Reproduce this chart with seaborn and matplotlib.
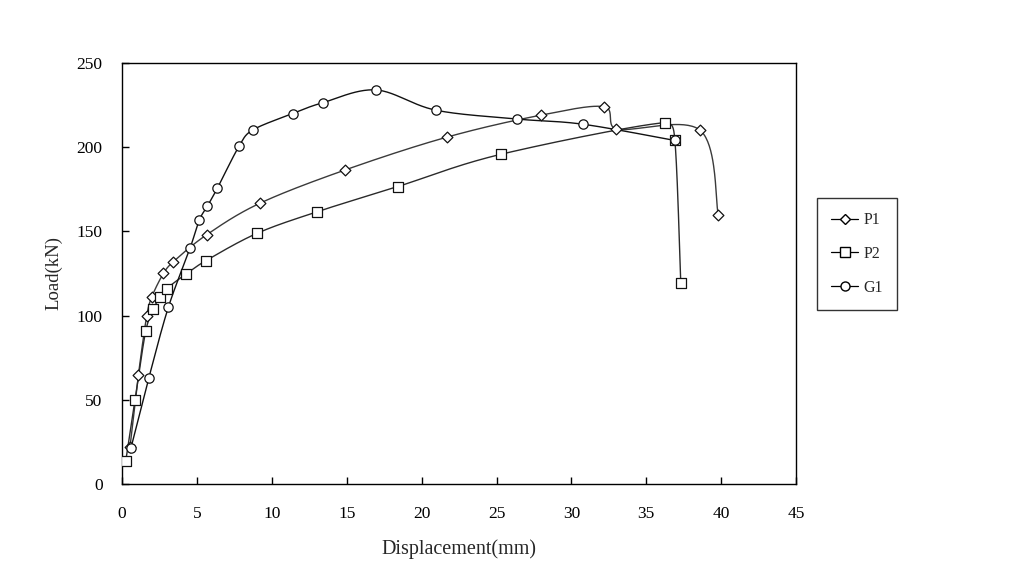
import numpy as np
import pandas as pd
import matplotlib
matplotlib.use("Agg")
import matplotlib.pyplot as plt
import seaborn as sns
from matplotlib.lines import Line2D

# ---- data ----
p1_x = [0.53, 1.09, 1.65, 1.98, 2.76, 3.43, 5.65, 9.2, 14.9, 21.7, 27.95, 32.2, 33.0, 38.6, 39.8]
p1_y = [22, 64.7, 100, 111, 125, 132, 148, 166.7, 186.5, 206, 219, 224, 210.8, 210, 160]

p2_x = [0.25, 0.87, 1.58, 2.09, 2.54, 2.98, 4.27, 5.6, 9.0, 13.04, 18.4, 25.3, 36.25, 36.9, 37.3]
p2_y = [13.8, 50, 90.9, 103.9, 111, 116, 124.7, 132.6, 148.8, 161.7, 176.6, 195.8, 214.6, 204.5, 119.5]

g1_x = [0.6, 1.78, 3.09, 4.54, 5.16, 5.7, 6.36, 7.83, 8.72, 11.4, 13.4, 16.94, 20.94, 26.4, 30.8, 36.9]
g1_y = [21.6, 62.7, 104.9, 140, 156.8, 165, 175.6, 200.9, 210.2, 220, 226.4, 234, 222, 216.7, 213.6, 204]

series_names = ["P1", "P2", "G1"]
series_markers = ["D", "s", "o"]
x_ticks = [0, 5, 10, 15, 20, 25, 30, 35, 40, 45]
y_ticks = [0, 50, 100, 150, 200, 250]
x_label = "Displacement(mm)"
y_label = "Load(kN)"

sns.set_theme(style="white")
plt.rcParams["font.family"] = ["Liberation Serif", "DejaVu Serif"]

fig = plt.figure(figsize=(10.23, 5.69), dpi=100)
ax = fig.add_axes([0.1193, 0.1494, 0.6589, 0.7399])

XMAX, YMAX = 45, 250
AXW, AXH = 674.0, 421.0  # axes size in pixels, for screen-space smoothing


def smooth(xs, ys, n=40):
    # Bezier smoothing with clamped tangents (spreadsheet-style "smoothed line")
    P = np.column_stack([np.asarray(xs) / XMAX * AXW, np.asarray(ys) / YMAX * AXH])
    m = len(P)
    tang = np.zeros_like(P)
    for i in range(m):
        a = P[max(i - 1, 0)]
        b = P[min(i + 1, m - 1)]
        tang[i] = (b - a) / 6.0
    out = []
    t = np.linspace(0, 1, n)[:, None]
    for i in range(m - 1):
        p1, p2 = P[i], P[i + 1]
        seg = np.linalg.norm(p2 - p1)
        d1, d2 = tang[i].copy(), tang[i + 1].copy()
        for d in (d1, d2):
            L = np.linalg.norm(d)
            if L > 0.45 * seg and L > 0:
                d *= 0.45 * seg / L
        c1, c2 = p1 + d1, p2 - d2
        c = ((1 - t) ** 3) * p1 + 3 * ((1 - t) ** 2) * t * c1 + 3 * (1 - t) * t ** 2 * c2 + t ** 3 * p2
        out.append(c if i == m - 2 else c[:-1])
    out = np.vstack(out)
    return out[:, 0] / AXW * XMAX, out[:, 1] / AXH * YMAX


data = {"P1": (p1_x, p1_y), "P2": (p2_x, p2_y), "G1": (g1_x, g1_y)}
line_colors = {"P1": "#3a3a3a", "P2": "#2a2a2a", "G1": "#111111"}
marker_sizes = {"D": 30, "s": 48, "o": 45}

for name, mk in zip(series_names, series_markers):
    xs, ys = data[name]
    sx, sy = smooth(xs, ys)
    df_line = pd.DataFrame({"x": sx, "y": sy})
    sns.lineplot(data=df_line, x="x", y="y", sort=False, estimator=None, ax=ax,
                 color=line_colors[name], linewidth=1.0)
    df_pts = pd.DataFrame({"x": xs, "y": ys})
    sns.scatterplot(data=df_pts, x="x", y="y", marker=mk, s=marker_sizes[mk], facecolor="white",
                    edgecolor="#111111", linewidth=0.9, ax=ax, zorder=3)

ax.set_xlim(0, XMAX)
ax.set_ylim(0, YMAX)
ax.set_xticks(x_ticks)
ax.set_yticks(y_ticks)
ax.tick_params(axis="both", direction="in", length=5, width=1, colors="black",
               labelsize=12.5, pad=14, bottom=True, left=True)
ax.tick_params(axis="x", pad=16)
for s in ax.spines.values():
    s.set_color("black")
    s.set_linewidth(1.0)
ax.set_xlabel(x_label, fontsize=14.5, labelpad=12)
ax.set_ylabel(y_label, fontsize=13.5, labelpad=10)

handles = [Line2D([0], [0], color="black", lw=0.9, marker=m,
                  markersize={"D": 5, "s": 6.5, "o": 6.5}[m],
                  markerfacecolor="white", markeredgecolor="black")
           for m in series_markers]
leg = fig.legend(handles, series_names, loc="upper left", bbox_to_anchor=(0.7985, 0.652),
                 frameon=True, fancybox=False, fontsize=11.5, handlelength=1.7,
                 handletextpad=0.3, labelspacing=1.1, borderpad=0.9, borderaxespad=0,
                 edgecolor="black")
leg.get_frame().set_linewidth(1.0)

fig.savefig("out.png", dpi=100, facecolor="white")
